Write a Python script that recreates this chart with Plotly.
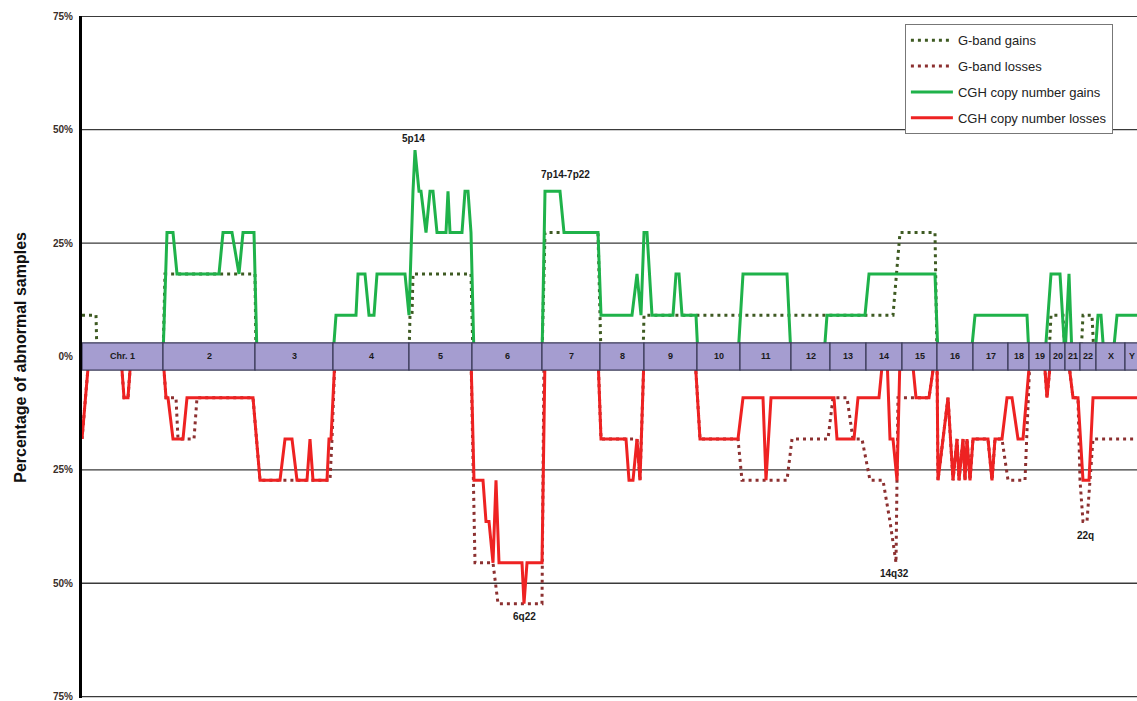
import plotly.graph_objects as go

# Chromosome layout along the genome axis (arbitrary position units)
chrom_labels = ["Chr. 1", "2", "3", "4", "5", "6", "7", "8", "9", "10", "11", "12",
                "13", "14", "15", "16", "17", "18", "19", "20", "21", "22", "X", "Y"]
chrom_bounds = [0, 81, 173, 251, 327, 390, 460, 518, 562, 615, 658, 709, 748, 784,
                820, 855, 891, 926, 947, 968, 983, 998, 1014, 1043, 1056]

# G-band (karyotype) gains, % of abnormal samples
gband_gain_pos = [0, 14, 15, 81, 83, 173, 174, 327, 328, 330, 331, 389, 391, 460, 463,
                  516, 519, 561, 562, 811, 818, 853, 855, 967, 969, 981, 983, 999, 1001,
                  1010, 1012, 1055]
gband_gain_val = [9.1, 9.1, 0, 0, 18.2, 18.2, 0, 0, 9.1, 9.1, 18.2, 18.2, 0, 0, 27.3,
                  27.3, 0, 0, 9.1, 9.1, 27.3, 27.3, 0, 0, 9.1, 9.1, 0, 0, 9.1,
                  9.1, 0, 0]

# G-band losses (negative = loss)
gband_loss_pos = [0, 7, 39, 42, 46, 49, 81, 84, 94, 96, 112, 115, 171, 178, 248, 250, 253,
                  389, 393, 411, 416, 460, 462, 516, 519, 555, 558, 562, 613, 618, 656,
                  660, 705, 710, 746, 751, 765, 771, 780, 788, 801, 808, 814, 816, 847,
                  853, 855, 856, 866, 871, 875, 877, 881, 883, 885, 888, 891, 906, 910,
                  913, 920, 926, 943, 948, 962, 965, 969, 986, 991, 996, 998, 1001, 1005,
                  1011, 1055]
gband_loss_val = [-18.2, 0, 0, -9.1, -9.1, 0, 0, -9.1, -9.1, -18.2, -18.2, -9.1, -9.1,
                  -27.3, -27.3, -18.2, 0, 0, -45.5, -45.5, -54.5, -54.5, 0, 0, -18.2,
                  -18.2, -27.3, 0, 0, -18.2, -18.2, -27.3, -27.3, -18.2, -18.2, -9.1,
                  -9.1, -18.2, -18.2, -27.3, -27.3, -36.4, -45.5, -9.1, -9.1, 0, 0,
                  -27.3, -9.1, -27.3, -18.2, -27.3, -18.2, -27.3, -18.2, -27.3, -18.2,
                  -18.2, -27.3, -18.2, -18.2, -27.3, -27.3, 0, 0, -9.1, 0, 0, -9.1,
                  -9.1, -27.3, -36.4, -36.4, -18.2, -18.2]

# CGH copy number gains
cgh_gain_pos = [0, 81, 85, 91, 95, 137, 141, 150, 157, 161, 172, 175, 251, 254, 274, 276,
                283, 287, 292, 295, 323, 327, 331, 333, 337, 339, 344, 348, 351, 355, 364,
                366, 368, 380, 383, 386, 389, 392, 460, 463, 478, 482, 516, 519, 550, 555,
                559, 562, 565, 570, 591, 594, 597, 600, 614, 616, 656, 661, 705, 709, 742,
                745, 783, 787, 853, 856, 889, 893, 945, 947, 963, 969, 978, 983, 987, 990,
                1013, 1016, 1019, 1022, 1031, 1035, 1055]
cgh_gain_val = [0, 0, 27.3, 27.3, 18.2, 18.2, 27.3, 27.3, 18.2, 27.3, 27.3, 0, 0, 9.1,
                9.1, 18.2, 18.2, 9.1, 9.1, 18.2, 18.2, 9.1, 36.4, 45.5, 36.4, 36.4, 27.3,
                36.4, 36.4, 27.3, 27.3, 36.4, 27.3, 27.3, 36.4, 36.4, 27.3, 0, 0, 36.4,
                36.4, 27.3, 27.3, 9.1, 9.1, 18.2, 9.1, 27.3, 27.3, 9.1, 9.1, 18.2, 18.2,
                9.1, 9.1, 0, 0, 18.2, 18.2, 0, 0, 9.1, 9.1, 18.2, 18.2, 0, 0, 9.1, 9.1,
                0, 0, 18.2, 18.2, 0, 18.2, 0, 0, 9.1, 9.1, 0, 0, 9.1, 9.1]

# CGH copy number losses
cgh_loss_pos = [0, 7, 39, 42, 46, 49, 81, 84, 86, 91, 101, 105, 171, 178, 198, 203, 210,
                215, 225, 228, 231, 245, 247, 249, 253, 389, 392, 401, 404, 407, 411, 414,
                417, 440, 442, 445, 460, 463, 516, 519, 544, 547, 551, 555, 558, 562, 613,
                618, 656, 661, 681, 684, 689, 752, 755, 772, 776, 797, 801, 805, 808, 811,
                815, 818, 830, 834, 847, 853, 855, 856, 866, 871, 875, 877, 881, 883, 885,
                888, 891, 906, 910, 913, 920, 925, 930, 936, 941, 948, 962, 965, 969, 986,
                991, 996, 1001, 1007, 1011, 1055]
cgh_loss_val = [-18.2, 0, 0, -9.1, -9.1, 0, 0, -9.1, -9.1, -18.2, -18.2, -9.1, -9.1,
                -27.3, -27.3, -18.2, -18.2, -27.3, -27.3, -18.2, -27.3, -27.3, -18.2,
                -18.2, 0, 0, -27.3, -27.3, -36.4, -36.4, -45.5, -27.3, -45.5, -45.5,
                -54.5, -45.5, -45.5, 0, 0, -18.2, -18.2, -27.3, -27.3, -18.2, -27.3, 0,
                0, -18.2, -18.2, -9.1, -9.1, -27.3, -9.1, -9.1, -18.2, -18.2, -9.1, -9.1,
                0, 0, -18.2, -18.2, -27.3, 0, 0, -9.1, -9.1, 0, 0, -27.3, -9.1, -27.3,
                -18.2, -27.3, -18.2, -27.3, -18.2, -27.3, -18.2, -18.2, -27.3, -18.2,
                -18.2, -9.1, -9.1, -18.2, -18.2, 0, 0, -9.1, 0, 0, -9.1, -9.1, -27.3,
                -27.3, -9.1, -9.1]

# Labelled peaks: (text, position, value)
peak_labels = ["5p14", "7p14-7p22", "6q22", "14q32", "22q"]
peak_pos = [331, 483, 442, 812, 1003]
peak_val = [48.1, 40.0, -57.4, -47.9, -39.5]

y_ticks = [-75, -50, -25, 0, 25, 50, 75]
y_tick_text = ["<b>75%</b>", "<b>50%</b>", "<b>25%</b>", "<b>0%</b>",
               "<b>25%</b>", "<b>50%</b>", "<b>75%</b>"]

FONT = "Arial, Liberation Sans, sans-serif"
GREEN = "#1fb24a"
RED = "#ee2222"
OLIVE = "#3e5a22"
MAROON = "#8c3030"

fig = go.Figure()
fig.add_trace(go.Scatter(x=gband_gain_pos, y=gband_gain_val, mode="lines",
                         name="G-band gains", legendgroup="a",
                         line=dict(color=OLIVE, width=3, dash="3px,4px")))
fig.add_trace(go.Scatter(x=gband_loss_pos, y=gband_loss_val, mode="lines",
                         name="G-band losses", legendgroup="b",
                         line=dict(color=MAROON, width=3, dash="3px,4px")))
fig.add_trace(go.Scatter(x=cgh_gain_pos, y=cgh_gain_val, mode="lines",
                         name="CGH copy number gains", legendgroup="c",
                         line=dict(color=GREEN, width=3)))
fig.add_trace(go.Scatter(x=cgh_loss_pos, y=cgh_loss_val, mode="lines",
                         name="CGH copy number losses", legendgroup="d",
                         line=dict(color=RED, width=3)))

shapes = []
# horizontal reference lines
for t in y_ticks:
    if t == 0:
        continue
    shapes.append(dict(type="line", xref="paper", x0=0, x1=1, yref="y", y0=t, y1=t,
                       line=dict(color="#3a3a3a", width=1.3), layer="below"))
# chromosome ideogram strip across the 0% line
annotations = []
for i, lab in enumerate(chrom_labels):
    x0, x1 = chrom_bounds[i], chrom_bounds[i + 1]
    shapes.append(dict(type="rect", xref="x", yref="y", x0=x0, x1=x1, y0=-3, y1=3,
                       fillcolor="#a59dd0", line=dict(color="#3b3b58", width=1.2),
                       layer="above"))
    annotations.append(dict(x=(x0 + x1) / 2, y=0, xref="x", yref="y", text=f"<b>{lab}</b>",
                            showarrow=False, font=dict(family=FONT, size=9, color="#1a1a1a")))

for lab, px, pv in zip(peak_labels, peak_pos, peak_val):
    annotations.append(dict(x=px, y=pv, xref="x", yref="y", text=f"<b>{lab}</b>",
                            showarrow=False, font=dict(family=FONT, size=10, color="#1a1a1a")))

annotations.append(dict(x=-0.059, y=0.5, xref="paper", yref="paper",
                        text="<b>Percentage of abnormal samples</b>", textangle=-90,
                        showarrow=False, xanchor="center", yanchor="middle",
                        font=dict(family=FONT, size=16, color="#111")))

fig.update_layout(
    width=1137, height=701,
    margin=dict(l=82, r=0, t=16, b=3),
    paper_bgcolor="white", plot_bgcolor="white",
    shapes=shapes, annotations=annotations,
    showlegend=True,
    legend=dict(x=0.78, y=0.988, xanchor="left", yanchor="top",
                bgcolor="white", bordercolor="#777", borderwidth=1,
                font=dict(family=FONT, size=13, color="#222"),
                tracegroupgap=6, traceorder="grouped", itemwidth=42),
    xaxis=dict(range=[0, 1055], showgrid=False, zeroline=False, showticklabels=False,
               showline=False, ticks=""),
    yaxis=dict(range=[-75.3, 75.05], tickvals=y_ticks, ticktext=y_tick_text,
               showgrid=False, zeroline=False, showline=True, linecolor="black",
               linewidth=3, ticks="", tickfont=dict(family=FONT, size=10, color="#3a2e2a"),
               ticklabelstandoff=4, ticklabeloverflow="allow"),
)

fig.write_html("out.html")
